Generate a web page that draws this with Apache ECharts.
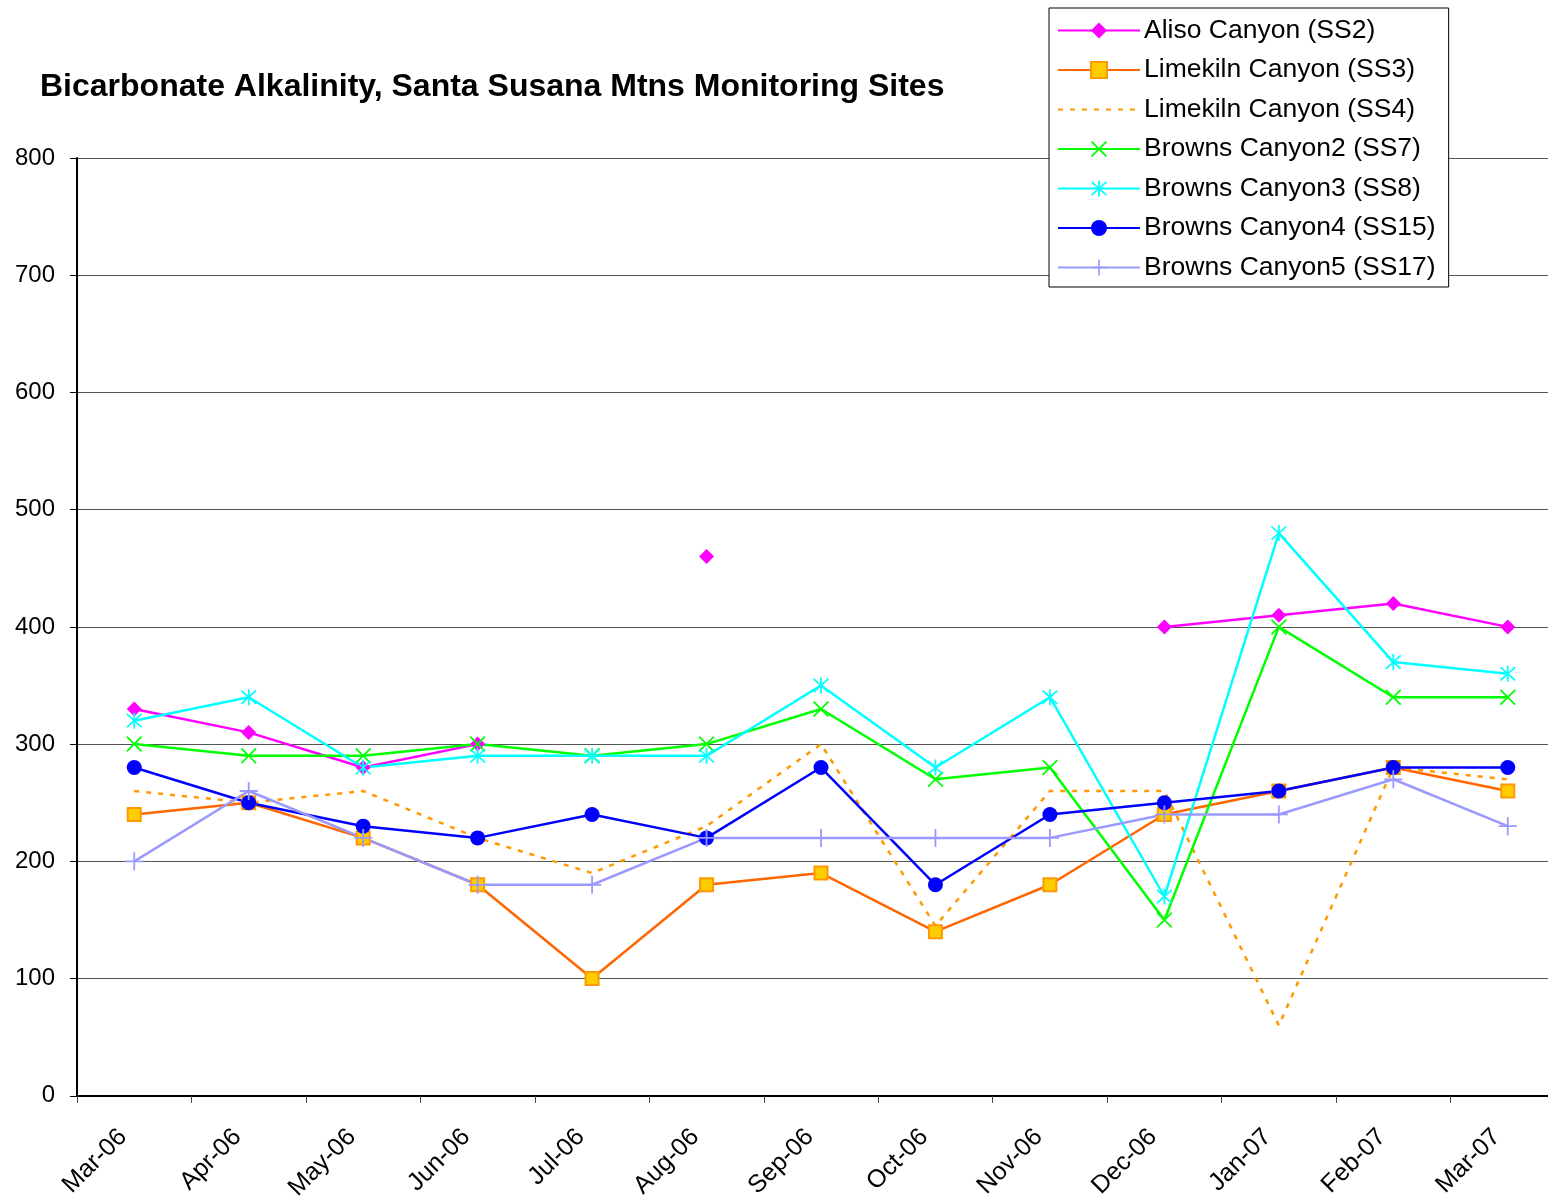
<!DOCTYPE html>
<html>
<head>
<meta charset="utf-8">
<script src="https://cdn.jsdelivr.net/npm/echarts@6/dist/echarts.min.js"></script>
<style>
  html, body { margin: 0; padding: 0; background: #fff; overflow: hidden; }
  #main { width: 1565px; height: 1203px; }
</style>
</head>
<body>
<div id="main"></div>
<script>
var months = ['Mar-06', 'Apr-06', 'May-06', 'Jun-06', 'Jul-06', 'Aug-06', 'Sep-06',
              'Oct-06', 'Nov-06', 'Dec-06', 'Jan-07', 'Feb-07', 'Mar-07'];

var ss2  = [330, 310, 280, 300, null, 460, null, null, null, 400, 410, 420, 400];
var ss3  = [240, 250, 220, 180, 100, 180, 190, 140, 180, 240, 260, 280, 260];
var ss4  = [260, 250, 260, 220, 190, 230, 300, 145, 260, 260, 60, 280, 270];
var ss7  = [300, 290, 290, 300, 290, 300, 330, 270, 280, 150, 400, 340, 340];
var ss8  = [320, 340, 280, 290, 290, 290, 350, 280, 340, 170, 480, 370, 360];
var ss15 = [280, 250, 230, 220, 240, 220, 280, 180, 240, 250, 260, 280, 280];
var ss17 = [200, 260, 220, 180, 180, 220, 220, 220, 220, 240, 240, 270, 230];

var yTicks = { min: 0, max: 800, interval: 100 };

// filled outlines for the stroke-like markers
var xPath = 'path://M-9,-7.6 L-7.6,-9 L0,-1.4 L7.6,-9 L9,-7.6 L1.4,0 L9,7.6 L7.6,9 L0,1.4 L-7.6,9 L-9,7.6 L-1.4,0 Z';
var starPath = 'path://M-9,-7.6 L-7.6,-9 L0,-1.4 L7.6,-9 L9,-7.6 L1.4,0 L9,7.6 L7.6,9 L0,1.4 L-7.6,9 L-9,7.6 L-1.4,0 Z M-1,-10 L1,-10 L1,10 L-1,10 Z';
var plusPath = 'path://M-1,-10 L1,-10 L1,10 L-1,10 Z M-10,-1 L10,-1 L10,1 L-10,1 Z';

var font = 'Liberation Sans, Arial, sans-serif';
// chart is a bit wider than the window: the plot runs past the right edge like the original
var myChart = echarts.init(document.getElementById('main'));

function lineSeries(name, data, color, symbol, size, extra) {
	var s = {
		name: name,
		type: 'line',
		data: data,
		symbol: symbol,
		symbolSize: size,
		connectNulls: false,
		animation: false,
		lineStyle: { color: color, width: 2.5 },
		itemStyle: { color: color }
	};
	for (var k in extra) s[k] = extra[k];
	return s;
}

var option = {
	backgroundColor: '#fff',
	textStyle: { fontFamily: font },
	title: {
		text: 'Bicarbonate Alkalinity, Santa Susana Mtns Monitoring Sites',
		left: 35,
		top: 66,
		textStyle: { fontSize: 32, fontWeight: 'bold', color: '#000', fontFamily: font }
	},
	legend: {
		orient: 'vertical',
		left: 1049,
		top: 8,
		padding: [9, 13, 6, 8],
		itemGap: 12.5,
		itemWidth: 82,
		itemHeight: 20,
		backgroundColor: '#fff',
		borderColor: '#000',
		borderWidth: 1,
		borderRadius: 0,
		textStyle: { fontSize: 26.5, color: '#000', fontFamily: font, padding: [0, 0, 0, -1] },
		data: [
			'Aliso Canyon (SS2)',
			'Limekiln Canyon (SS3)',
			{ name: 'Limekiln Canyon (SS4)', itemStyle: { opacity: 0 } },
			'Browns Canyon2 (SS7)',
			'Browns Canyon3 (SS8)',
			'Browns Canyon4 (SS15)',
			'Browns Canyon5 (SS17)'
		]
	},
	grid: {
		left: 77,
		top: 158,
		right: 0,
		bottom: 107
	},
	xAxis: {
		type: 'category',
		data: months,
		boundaryGap: true,
		axisLine: { lineStyle: { color: '#000', width: 2 } },
		axisTick: { show: true, length: 7, lineStyle: { color: '#444', width: 1 } },
		axisLabel: {
			rotate: 45,
			interval: 0,
			margin: 26,
			padding: [0, 16, 0, 0],
			fontSize: 25,
			color: '#000',
			fontFamily: font
		},
		splitLine: { show: false }
	},
	yAxis: {
		type: 'value',
		min: yTicks.min,
		max: yTicks.max,
		interval: yTicks.interval,
		axisLine: { show: true, lineStyle: { color: '#000', width: 2 } },
		axisTick: { show: true, length: 7, lineStyle: { color: '#000', width: 1 } },
		axisLabel: { fontSize: 24, color: '#000', margin: 22, fontFamily: font },
		splitLine: { show: true, lineStyle: { color: '#555', width: 1 } }
	},
	series: [
		lineSeries('Aliso Canyon (SS2)', ss2, '#ff00ff', 'diamond', 15),
		lineSeries('Limekiln Canyon (SS3)', ss3, '#ff6600', 'rect', 13, {
			itemStyle: { color: '#ffcc00', borderColor: '#ff9900', borderWidth: 2 }
		}),
		lineSeries('Limekiln Canyon (SS4)', ss4, '#ff9900', 'none', 0, {
			showSymbol: false,
			lineStyle: { color: '#ff9900', width: 2.5, type: [5, 7] }
		}),
		lineSeries('Browns Canyon2 (SS7)', ss7, '#00ff00', xPath, 16),
		lineSeries('Browns Canyon3 (SS8)', ss8, '#00ffff', starPath, 16),
		lineSeries('Browns Canyon4 (SS15)', ss15, '#0000ff', 'circle', 15),
		lineSeries('Browns Canyon5 (SS17)', ss17, '#9999ff', plusPath, 18)
	]
};

myChart.setOption(option);
window.onresize = myChart.resize;
</script>
</body>
</html>
